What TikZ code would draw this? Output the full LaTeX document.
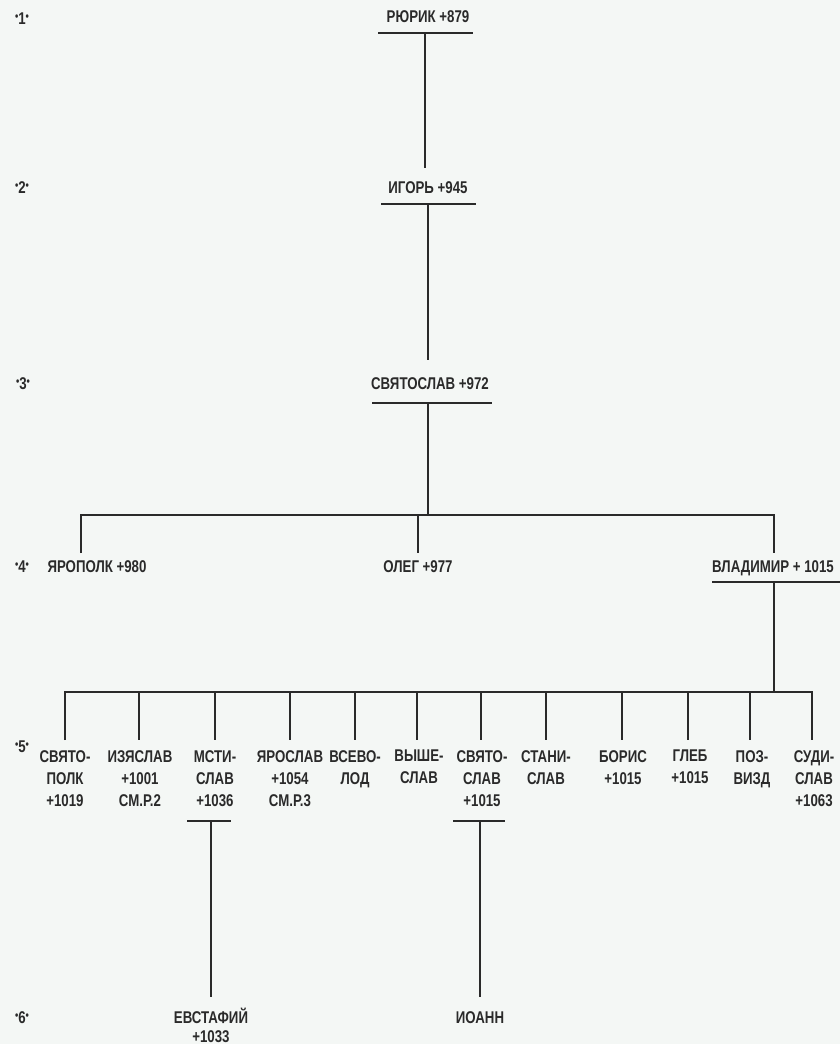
\documentclass[tikz,border=0pt]{standalone}
\usepackage{fontspec}
\setmainfont[FakeStretch=0.78]{Liberation Sans}
\definecolor{bg}{HTML}{F4F7F5}
\definecolor{ink}{HTML}{2A2A2A}
\newcommand{\gdot}{\raisebox{3.5pt}{\fontsize{12}{12}\selectfont •}}
\begin{document}
\begin{tikzpicture}[x=1pt,y=-1pt,
  name1/.style={font=\fontsize{17}{22}\selectfont\bfseries, text=ink, inner sep=0pt, text height=12pt, text depth=0pt},
  name5/.style={font=\fontsize{17}{22}\selectfont\bfseries, text=ink, inner sep=0pt, align=center, anchor=north},
  ln/.style={draw=ink, line width=1.3pt},
  thick ln/.style={draw=ink, line width=2.6pt},
  bar/.style={draw=ink, line width=1.8pt}]
\fill[bg] (0,0) rectangle (840,1044);
\useasboundingbox (0,0) rectangle (840,1044);

% generation markers
\node[name1] (g1) at (22,18) {\gdot1\gdot};
\node[name1] (g2) at (22,187) {\gdot2\gdot};
\node[name1] (g3) at (23,383) {\gdot3\gdot};
\node[name1] (g4) at (22,566) {\gdot4\gdot};
\node[name1] (g5) at (22,746) {\gdot5\gdot};
\node[name1] (g6) at (22,1017) {\gdot6\gdot};

% generations 1-4
\node[name1] (rurik) at (428,17) {РЮРИК +879};
\node[name1] (igor) at (428,187) {ИГОРЬ +945};
\node[name1] (svyat) at (430,383) {СВЯТОСЛАВ +972};
\node[name1] (yaropolk) at (97,566) {ЯРОПОЛК +980};
\node[name1] (oleg) at (418,566) {ОЛЕГ +977};
\node[name1] (vlad) at (773,566) {ВЛАДИМИР + 1015};

% bars and junctions
\draw[bar] (378,33) -- (473,33);
\coordinate (rurikJ) at (425,33);
\draw[bar] (381,204) -- (476,204);
\coordinate (igorJ) at (428,204);
\draw[bar] (372,403) -- (492,403);
\coordinate (svyatJ) at (428,403);
\coordinate (h4) at (428,515);
\draw[bar] (712,582) -- (840,582);
\coordinate (vladJ) at (774,582);
\coordinate (h5) at (774,692);

\draw[ln] (rurikJ) -- (425,168);
\draw[ln] (igorJ) -- (428,360);
\draw[thick ln] (svyatJ) -- (h4);
\draw[ln] (81,553) -- (81,515) -- (774,515) -- (774,553);
\draw[ln] (h4 -| oleg.north) -- ++(0,38);
\draw[ln] (vladJ) -- (h5);

% generation 5
\node[name5] (svp) at (65,750) {СВЯТО-\\ПОЛК\\+1019};
\node[name5] (izy) at (140,750) {ИЗЯСЛАВ\\+1001\\СМ.Р.2};
\node[name5] (mst) at (215,750) {МСТИ-\\СЛАВ\\+1036};
\node[name5] (yar) at (290,750) {ЯРОСЛАВ\\+1054\\СМ.Р.3};
\node[name5] (vse) at (355,750) {ВСЕВО-\\ЛОД};
\node[name5] (vys) at (419,750) {ВЫШЕ-\\СЛАВ};
\node[name5] (svs) at (482,750) {СВЯТО-\\СЛАВ\\+1015};
\node[name5] (sta) at (546,750) {СТАНИ-\\СЛАВ};
\node[name5] (bor) at (623,750) {БОРИС\\+1015};
\node[name5] (gleb) at (690,750) {ГЛЕБ\\+1015};
\node[name5] (poz) at (752,750) {ПОЗ-\\ВИЗД};
\node[name5] (sud) at (814,750) {СУДИ-\\СЛАВ\\+1063};

\draw[ln] (65,740) -- (65,692) -- (812,692) -- (812,740);
\foreach \x in {139,215,290,355,417,481,546,622,688,750}
  \draw[ln] (\x,692) -- (\x,740);

% generation 6
\draw[bar] (187,821) -- (231,821);
\coordinate (mstJ) at (211,821);
\draw[bar] (453,821) -- (505,821);
\coordinate (svsJ) at (480,821);
\node[name1] (evst) at (211,1017) {ЕВСТАФИЙ};
\node[name1] (evstd) at (211,1036) {+1033};
\node[name1] (ioann) at (480,1017) {ИОАНН};
\draw[ln] (mstJ) -- (211,997);
\draw[ln] (svsJ) -- (480,997);
\end{tikzpicture}
\end{document}
